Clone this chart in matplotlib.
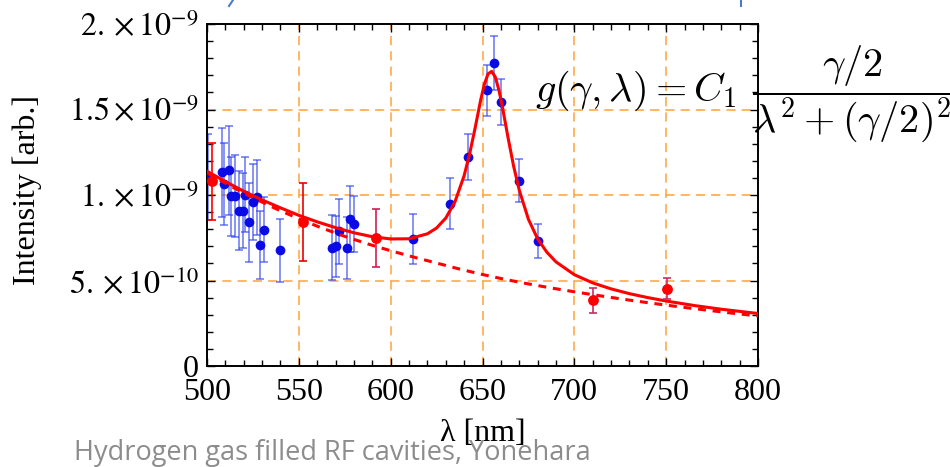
import numpy as np
import matplotlib
matplotlib.use("Agg")
import matplotlib.pyplot as plt
from matplotlib.ticker import FixedLocator, MultipleLocator, FixedFormatter
from matplotlib.lines import Line2D

plt.rcParams['font.family'] = ['Liberation Serif', 'DejaVu Serif']
plt.rcParams['mathtext.fontset'] = 'stix'

SCALE = 1e-10

# blue measurements (wavelength nm, intensity in 1e-10, error in 1e-10)
blue_x = [500.5, 508.0, 509.4, 512.2, 512.9, 515.3, 517.6, 519.5, 520.7, 523.1,
          524.9, 527.1, 528.9, 531.1, 539.8, 568.2, 570.3, 572.1, 576.2, 578.0,
          580.2, 612.2, 632.1, 642.2, 652.5, 656.5, 660.1, 670.1, 680.1]
blue_y = [11.05, 11.32, 10.66, 11.44, 9.92, 9.96, 9.08, 9.08, 10.02, 8.40,
          9.59, 9.86, 7.09, 7.97, 6.76, 6.92, 6.99, 7.87, 6.90, 8.60,
          8.30, 7.43, 9.49, 12.20, 16.12, 17.72, 15.44, 10.84, 7.31]
blue_err = [2.5, 2.6, 2.4, 2.6, 2.3, 2.4, 2.3, 2.2, 2.2, 2.3,
            2.2, 2.2, 2.0, 1.9, 1.83, 1.9, 1.8, 1.92, 1.8, 1.95,
            1.66, 1.46, 1.49, 1.35, 1.49, 1.6, 1.33, 1.27, 1.0]

# red measurements
red_x = [502.7, 552.2, 591.8, 710.3, 750.3]
red_y = [10.80, 8.42, 7.49, 3.84, 4.52]
red_err = [2.24, 2.28, 1.70, 0.75, 0.60]
red_err_colors = ['#ff0000', '#ee0000', '#d02050', '#c43060', '#c43060']

# fitted curve (background + Lorentzian)
fit_x = [500, 510, 520, 530, 540, 550, 560, 570, 580, 590, 600, 610, 620, 625,
         630, 635, 640, 643, 646, 649, 651, 653, 655, 657, 659, 661, 664, 667,
         670, 675, 680, 685, 690, 700, 710, 720, 730, 740, 750, 765, 780, 800]
fit_y = [11.39, 10.79, 10.22, 9.71, 9.25, 8.81, 8.43, 8.09, 7.79, 7.56, 7.43,
         7.44, 7.73, 8.07, 8.65, 9.60, 11.13, 12.41, 13.93, 15.55, 16.47, 17.08,
         17.23, 16.89, 16.11, 15.06, 13.30, 11.66, 10.29, 8.58, 7.44, 6.66, 6.09,
         5.34, 4.86, 4.51, 4.23, 4.00, 3.80, 3.54, 3.32, 3.07]

# background only (dashed)
bg_x = [500, 512.5, 525, 537.5, 550, 562.5, 575, 587.5, 600, 612.5, 625, 637.5,
        650, 662.5, 675, 687.5, 700, 712.5, 725, 737.5, 750, 762.5, 775, 787.5, 800]
bg_y = [11.3, 10.54, 9.84, 9.20, 8.61, 8.07, 7.58, 7.14, 6.74, 6.37, 6.02, 5.67,
        5.35, 5.06, 4.80, 4.56, 4.34, 4.13, 3.93, 3.74, 3.56, 3.39, 3.23, 3.07, 2.93]

x_major = [500, 550, 600, 650, 700, 750, 800]
y_major = [0, 5e-10, 1e-9, 1.5e-9, 2e-9]
y_labels = ['0', r'$5.\times10^{-10}$', r'$1.\times10^{-9}$',
            r'$1.5\times10^{-9}$', r'$2.\times10^{-9}$']

W, H = 950, 467
fig = plt.figure(figsize=(9.5, 4.67), dpi=100)
L, R, T, B = 207, 758, 24, 366
ax = fig.add_axes([L / W, 1 - B / H, (R - L) / W, (B - T) / H])
ax.set_xlim(500, 800)
ax.set_ylim(0, 2e-9)

grid_c = '#ffa23a'
for gx in x_major[1:-1]:
    ax.axvline(gx, color=grid_c, lw=1.1, dashes=(6, 4), zorder=0.5)
for gy in y_major[1:-1]:
    ax.axhline(gy, color=grid_c, lw=1.1, dashes=(6, 4), zorder=0.5)

by = np.array(blue_y) * SCALE
be = np.array(blue_err) * SCALE
ax.errorbar(blue_x, by, yerr=be, fmt='none', ecolor='#2a3cf0', alpha=0.7,
            elinewidth=1.1, capsize=3.2, capthick=1.1, zorder=2)
ax.plot(blue_x, by, 'o', color='#0a0ae6', ms=7.0, mec='none', zorder=3)

ax.plot(fit_x, np.array(fit_y) * SCALE, color='#ff0000', lw=2.2, zorder=4,
        solid_joinstyle='round')
ax.plot(bg_x, np.array(bg_y) * SCALE, color='#ff0000', lw=2.2, dashes=(2.6, 2.2),
        zorder=4)

ry = np.array(red_y) * SCALE
re_ = np.array(red_err) * SCALE
for x, y, e, c in zip(red_x, ry, re_, red_err_colors):
    ax.errorbar([x], [y], yerr=[e], fmt='none', ecolor=c, elinewidth=1.2,
                capsize=3.0, capthick=1.2, zorder=5)
ax.plot(red_x, ry, 'o', color='#ff0000', ms=7.8, mec='none', zorder=6)

ax.xaxis.set_major_locator(FixedLocator(x_major))
ax.xaxis.set_minor_locator(MultipleLocator(10))
ax.yaxis.set_major_locator(FixedLocator(y_major))
ax.yaxis.set_major_formatter(FixedFormatter(y_labels))
ax.yaxis.set_minor_locator(MultipleLocator(1e-10))
ax.tick_params(which='both', direction='in', top=True, right=True,
               labelsize=23, width=1.0, colors='black')
ax.tick_params(which='major', length=6)
ax.tick_params(which='minor', length=4)
ax.tick_params(axis='x', pad=9)
ax.tick_params(axis='y', pad=6)
for s in ax.spines.values():
    s.set_linewidth(1.4)

ax.set_xlabel(r'λ [nm]', fontsize=23, labelpad=8)
fig.text(27 / W, 1 - 190 / H, 'Intensity [arb.]', rotation=90, fontsize=23,
         ha='center', va='center')

# formula (left part and the fraction, placed separately)
fig.text(535 / W, 1 - 101 / H, r'$g(\gamma,\lambda) = C_1$',
         fontsize=29, math_fontfamily='cm', ha='left', va='baseline')
fig.text(752 / W, 1 - 101 / H, r'$\dfrac{\gamma/2}{\lambda^2+(\gamma/2)^2}$',
         fontsize=29, math_fontfamily='cm', ha='left', va='baseline')

# caption
fig.text(74 / W, 1 - 460 / H, 'Hydrogen gas filled RF cavities, Yonehara',
         fontsize=19.5, color='#8c8c8c', family=['Open Sans', 'DejaVu Sans'],
         ha='left', va='baseline')

# slide fragments
fig.add_artist(Line2D([229 / W, 233 / W], [1 - 6 / H, 1 - 0 / H], color='#4a7cc9', lw=1.5))
fig.add_artist(Line2D([741 / W, 741 / W], [1 - 6 / H, 1.0], color='#4a7cc9', lw=1.5))

fig.savefig('out.png', dpi=100)
